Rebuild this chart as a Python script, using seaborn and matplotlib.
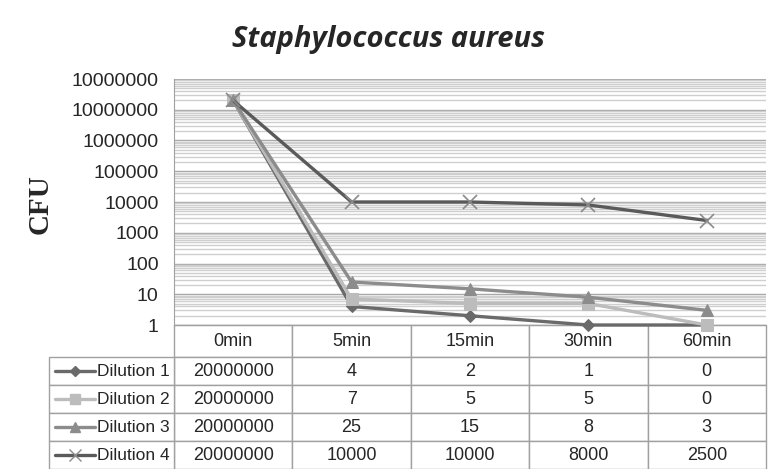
import numpy as np
import pandas as pd
import matplotlib
matplotlib.use("Agg")
import matplotlib.pyplot as plt
import seaborn as sns
from matplotlib.lines import Line2D

categories = ["0min", "5min", "15min", "30min", "60min"]
series_names = ["Dilution 1", "Dilution 2", "Dilution 3", "Dilution 4"]
dilution1 = [20000000, 4, 2, 1, 0]
dilution2 = [20000000, 7, 5, 5, 0]
dilution3 = [20000000, 25, 15, 8, 3]
dilution4 = [20000000, 10000, 10000, 8000, 2500]
table_text = [
    ["20000000", "4", "2", "1", "0"],
    ["20000000", "7", "5", "5", "0"],
    ["20000000", "25", "15", "8", "3"],
    ["20000000", "10000", "10000", "8000", "2500"],
]
ytick_values = [1, 10, 100, 1000, 10000, 100000, 1000000, 10000000, 100000000]
ytick_labels = ["1", "10", "100", "1000", "10000", "100000", "1000000", "10000000", "10000000"]

series_values = [dilution1, dilution2, dilution3, dilution4]
colors = ["#6a6a6a", "#bcbcbc", "#8c8c8c", "#5a5a5a"]
markers = ["D", "s", "^", "x"]
msizes = [6, 9, 9, 10]

sns.set_style("white")
plt.rcParams["font.family"] = ["Liberation Sans", "DejaVu Sans"]

W, H = 773, 469
fig = plt.figure(figsize=(W / 100, H / 100), dpi=100)
L, R, T, B = 174, 766, 79, 325
ax = fig.add_axes([L / W, 1 - B / H, (R - L) / W, (B - T) / H])

x = np.arange(len(categories))
for name, vals, c, m, ms in zip(series_names, series_values, colors, markers, msizes):
    df = pd.DataFrame({"t": x, "cfu": np.clip(np.array(vals, dtype=float), 1, None)})
    kw = dict(markeredgecolor=c)
    if m == "x":
        kw = dict(markeredgecolor="#8a8a8a", markeredgewidth=1.2)
    sns.lineplot(data=df, x="t", y="cfu", ax=ax, color=c, marker=m,
                 markersize=ms, linewidth=2.4, legend=False, clip_on=False,
                 zorder=3, **kw)

ax.set_yscale("log")
ax.set_ylim(1, 1e8)
ax.set_xlim(-0.5, len(categories) - 0.5)
ax.set_yticks(ytick_values)
ax.set_yticklabels(ytick_labels, fontsize=14)
ax.yaxis.set_minor_locator(matplotlib.ticker.LogLocator(base=10, subs=np.arange(2, 10), numticks=20))
ax.yaxis.set_minor_formatter(matplotlib.ticker.NullFormatter())
ax.grid(which="major", axis="y", color="#a8a8a8", linewidth=1)
ax.grid(which="minor", axis="y", color="#cfcfcf", linewidth=1)
ax.set_axisbelow(True)
ax.tick_params(axis="y", which="major", length=5, color="#a0a0a0", pad=6)
ax.tick_params(axis="y", which="minor", length=0)
ax.set_xticks(np.arange(len(categories) + 1) - 0.5)
ax.set_xticklabels([])
ax.tick_params(axis="x", which="major", direction="in", length=5, color="#a0a0a0")
ax.set_xlabel("")
ax.set_ylabel("")
for s in ["top", "right"]:
    ax.spines[s].set_visible(False)
ax.spines["left"].set_color("#a0a0a0")
ax.spines["bottom"].set_color("#a0a0a0")

# data table (value columns)
tbl = ax.table(cellText=table_text, colLabels=categories, cellLoc="center",
               bbox=[0, -(469 - B) / (B - T), 1, (469 - B) / (B - T)])
tbl.auto_set_font_size(False)
tbl.set_fontsize(13)
for (r, c), cell in tbl.get_celld().items():
    cell.set_edgecolor("#a0a0a0")
    cell.set_linewidth(1)
    cell.set_height(32 if r == 0 else 28)

# row-label column (legend keys)
lbl = ax.table(cellText=[[""]] * 4, cellLoc="left",
               bbox=[(49 - L) / (R - L), -(469 - B) / (B - T), (L - 49) / (R - L), (469 - 357) / (B - T)])
for (r, c), cell in lbl.get_celld().items():
    cell.set_edgecolor("#a0a0a0")
    cell.set_linewidth(1)

row_tops = [357, 385, 413, 441]
for name, c, m, ms, top in zip(series_names, colors, markers, msizes, row_tops):
    yc = 1 - (top + 14) / H
    kw = dict(markeredgecolor=c, markerfacecolor=c)
    if m == "x":
        kw = dict(markeredgecolor="#8a8a8a", markeredgewidth=1)
    fig.add_artist(Line2D([55 / W, 95 / W], [yc, yc], color=c, linewidth=2.4,
                          transform=fig.transFigure))
    fig.add_artist(Line2D([75 / W], [yc], marker=m, markersize=ms * 0.8,
                          transform=fig.transFigure, linestyle="none", **kw))
    fig.text(97 / W, yc, name, fontsize=12.5, ha="left", va="center")

fig.text(388 / W, 1 - 40 / H, "Staphylococcus aureus", fontsize=21,
         fontweight="bold", fontstyle="italic", ha="center", va="center",
         family=["Open Sans", "DejaVu Sans"])
fig.text(40 / W, 1 - 204 / H, "CFU", fontsize=21, fontweight="bold",
         rotation=90, ha="center", va="center",
         family=["Liberation Serif", "DejaVu Serif"])

fig.savefig("out.png", dpi=100)
